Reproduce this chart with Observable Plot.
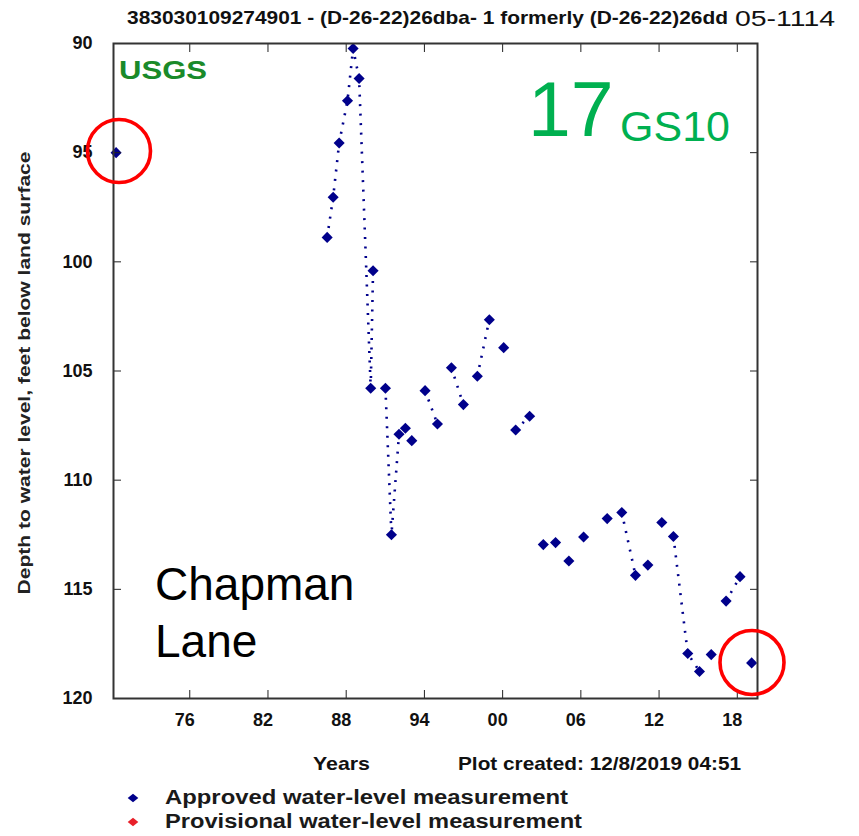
<!DOCTYPE html>
<html><head><meta charset="utf-8">
<script src="https://cdn.jsdelivr.net/npm/d3@7"></script>
<script src="https://cdn.jsdelivr.net/npm/@observablehq/plot@0.6"></script>
<style>html,body{margin:0;padding:0;background:#fff}#chart svg{display:block}</style>
</head><body><div id="chart"></div>
<script>
// Measurement dates (decimal years) and depth to water (ft below land surface)
const years = [1970.35, 1986.54, 1987.0, 1987.46, 1988.1, 1988.53, 1988.99, 1989.88, 1990.06,
  1991.01, 1991.47, 1992.05, 1992.54, 1993.03, 1994.05, 1995.0, 1996.07, 1996.99, 1998.06, 1998.98,
  2000.08, 2001.0, 2002.07, 2003.12, 2004.06, 2005.08, 2006.21, 2008.02, 2009.14, 2010.19, 2011.14,
  2012.21, 2013.1, 2014.2, 2015.1, 2016.0, 2017.14, 2018.21, 2019.1];
const depths = [95.0, 98.88, 97.04, 94.56, 92.62, 90.23, 91.6, 105.79, 100.41,
  105.79, 112.5, 107.9, 107.62, 108.19, 105.9, 107.43, 104.85, 106.54, 105.24, 102.65,
  103.93, 107.7, 107.07, 112.95, 112.86, 113.7, 112.6, 111.76, 111.48, 114.36, 113.89,
  111.94, 112.58, 117.94, 118.76, 117.99, 115.54, 114.42, 118.37];
// connected runs of measurements (dotted line drawn within each run)
const runs = [0, 1, 1, 1, 1, 1, 1, 1, 1,
  2, 2, 2, 3, 4, 5, 5, 6, 6, 7, 7,
  8, 9, 9, 10, 11, 12, 13, 14, 15, 15, 16,
  17, 18, 18, 18, 19, 20, 20, 21];
const xTicks = [1976, 1982, 1988, 1994, 2000, 2006, 2012, 2018];
const yTicks = [90, 95, 100, 105, 110, 115, 120];
const legendLabels = ["Approved water-level measurement", "Provisional water-level measurement"];
const legendColors = ["#00008b", "#e8202a"];
const titleText = "383030109274901 - (D-26-22)26dba- 1 formerly (D-26-22)26dd";
const titleExtra = "05-1114";
const yLabel = "Depth to water level, feet below land surface";
const xLabel = "Years";
const createdText = "Plot created: 12/8/2019 04:51";

const data = years.map((t, i) => ({year: t, depth: depths[i], run: runs[i]}));
const navy = "#00008b";
const FONT = "'Liberation Sans', Arial, Helvetica, sans-serif";
const NARROW = "'Liberation Sans Narrow', " + FONT;
const yr2 = d => String(d % 100).padStart(2, "0");

const chart = Plot.plot({
  width: 859, height: 836,
  marginLeft: 113, marginRight: 102, marginTop: 43, marginBottom: 138,
  style: {fontFamily: FONT, background: "#fff", color: "#111"},
  x: {domain: [1970.15, 2019.55]},
  y: {domain: [90, 120], reverse: true},
  marks: [
    Plot.line(data, {x: "year", y: "depth", z: "run", stroke: navy, strokeWidth: 2.6,
      strokeDasharray: "2,7.5", strokeLinecap: "butt"}),
    Plot.dot(data, {x: "year", y: "depth", symbol: "diamond2", r: 5, fill: navy, stroke: "none"}),
    // inward tick marks on all four sides
    Plot.axisX(xTicks, {anchor: "bottom", tickSize: -8, tickFormat: () => "", label: null, stroke: "#222"}),
    Plot.axisX(xTicks, {anchor: "top", tickSize: -8, tickFormat: () => "", label: null, stroke: "#222"}),
    Plot.axisY(yTicks, {anchor: "left", tickSize: -8, tickFormat: () => "", label: null, stroke: "#222"}),
    Plot.axisY(yTicks, {anchor: "right", tickSize: -8, tickFormat: () => "", label: null, stroke: "#222"}),
    // tick labels
    Plot.axisX(xTicks, {anchor: "bottom", tickSize: 0, tickPadding: 15, dx: -5, tickFormat: yr2,
      label: null, fontSize: 18, fontWeight: "bold", fill: "#111"}),
    Plot.axisY(yTicks, {anchor: "left", tickSize: 0, tickPadding: 21, label: null,
      fontSize: 18, fontWeight: "bold", fill: "#111"}),
    Plot.frame({stroke: "#333", strokeWidth: 2})
  ]
});
document.getElementById("chart").appendChild(chart);

const svg = d3.select(chart);
function txt(s, x, y, o = {}) {
  const t = svg.append("text").text(s).attr("x", x).attr("y", y)
    .attr("font-family", o.family || FONT)
    .attr("font-size", o.size || 16)
    .attr("font-weight", o.weight || "normal")
    .attr("fill", o.fill || "#111")
    .attr("text-anchor", o.anchor || "start");
  if (o.len) t.attr("textLength", o.len).attr("lengthAdjust", "spacingAndGlyphs");
  if (o.transform) t.attr("transform", o.transform);
  return t;
}
// title
txt(titleText, 127, 24, {size: 19, weight: "bold", len: 601, family: NARROW});
txt(titleExtra, 735, 26, {size: 22, len: 100});
// y label
txt(yLabel, 0, 0, {size: 17, weight: "bold", anchor: "middle", len: 443, fill: "#222",
  family: NARROW, transform: "translate(30,373) rotate(-90)"});
// bottom texts
txt(xLabel, 313, 770, {size: 19, weight: "bold", len: 57, family: NARROW});
txt(createdText, 458, 770, {size: 19, weight: "bold", len: 283, family: NARROW});
// annotations
txt("USGS", 119, 79, {size: 25, weight: "bold", fill: "#1a8a2a", len: 88});
txt("17", 528, 136, {size: 77, fill: "#00b050"});
txt("GS10", 620, 141, {size: 43, fill: "#00b050"});
txt("Chapman", 155, 600, {size: 46, fill: "#000"});
txt("Lane", 155, 657, {size: 46, fill: "#000"});
// red circles
[[119, 151, 31.5], [752, 662.5, 32]].forEach(([cx, cy, r]) =>
  svg.append("circle").attr("cx", cx).attr("cy", cy).attr("r", r)
    .attr("fill", "none").attr("stroke", "#ff0000").attr("stroke-width", 3.6));
// legend
legendLabels.forEach((lab, i) => {
  const y = 798 + i * 24;
  svg.append("path").attr("d", d3.symbol(d3.symbolDiamond2, 55)())
    .attr("transform", `translate(133,${y}) scale(1.15,0.9)`).attr("fill", legendColors[i]);
  txt(lab, 165, y + 6, {size: 20, weight: "bold", fill: "#1a1a1a", len: i === 0 ? 403 : 417});
});
</script></body></html>
